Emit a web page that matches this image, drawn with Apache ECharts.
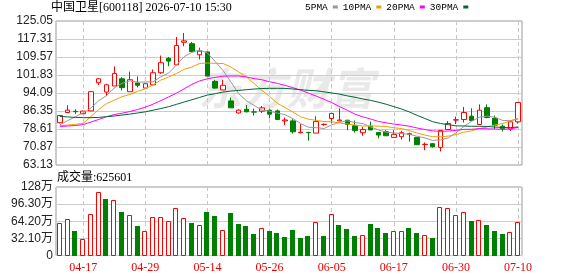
<!DOCTYPE html>
<html><head><meta charset="utf-8">
<script src="https://cdn.jsdelivr.net/npm/echarts@6/dist/echarts.min.js"></script>
<style>html,body{margin:0;padding:0;background:#fff}#c{width:578px;height:276px}</style>
</head><body><div id="c"></div>
<script>
const dates = ['04-14','04-15','04-16','04-17','04-20','04-21','04-22','04-23','04-24','04-27','04-28','04-29','04-30','05-06','05-07','05-08','05-11','05-12','05-13','05-14','05-15','05-18','05-19','05-20','05-21','05-22','05-25','05-26','05-27','05-28','05-29','06-01','06-02','06-03','06-04','06-05','06-08','06-09','06-10','06-11','06-12','06-15','06-16','06-17','06-18','06-22','06-23','06-24','06-25','06-26','06-29','06-30','07-01','07-02','07-03','07-06','07-07','07-08','07-09','07-10'];
const opens = [81.3,85.7,86.2,85.2,86.4,98.5,94.5,97.1,100.2,94.65,98.4,96.2,97.6,102.8,109.0,106.2,115.9,115.3,110.5,111.75,99.1,95.4,90.7,85.5,87.1,85.95,86.25,86.7,86.4,82.1,82.1,77.0,77.15,76.84,80.5,83.1,82.1,82.4,80.0,77.0,79.7,77.1,77.4,75.0,75.3,76.2,75.0,71.9,72.3,70.7,78.4,82.45,82.7,84.1,80.55,87.8,83.2,79.8,78.55,81.7];
const closes = [84.4,86.7,86.05,86.3,94.65,100.2,97.6,102.5,96.4,99.8,97.4,98.1,102.8,107.1,107.8,114.5,116.5,111.9,112.1,101.35,96.2,97.4,87.7,86.7,86.0,85.9,87.7,85.0,82.7,82.5,77.4,77.2,77.05,81.8,80.6,85.25,82.5,80.55,78.0,78.4,78.2,75.99,75.7,76.3,77.0,76.6,71.85,72.05,71.0,78.0,81.0,82.6,85.7,82.25,86.7,83.55,80.26,78.7,81.7,90.0];
const lows = [81.0,85.7,85.1,85.0,86.4,97.5,92.8,97.1,95.2,94.6,96.5,96.2,97.6,102.3,105.6,106.2,114.2,111.8,108.5,101.35,95.9,95.4,87.7,85.25,85.8,84.4,85.5,83.2,82.4,80.3,76.7,76.8,73.6,76.84,80.0,81.0,81.97,78.1,77.1,75.7,78.2,74.6,75.7,74.85,74.1,73.2,71.7,69.5,70.6,69.0,78.4,80.7,81.4,82.1,80.55,83.2,78.6,77.55,77.8,80.9];
const highs = [84.6,88.8,87.1,86.5,94.7,100.5,98.1,105.5,100.9,103.3,101.2,98.5,104.2,110.2,109.6,118.2,119.9,116.0,113.6,111.75,99.8,99.8,92.1,87.1,88.9,87.4,88.5,87.1,87.0,83.5,82.8,80.7,77.4,84.1,81.0,85.5,87.4,82.5,82.25,79.5,81.8,77.3,78.1,78.1,77.8,77.1,75.0,72.8,72.6,78.1,82.0,83.96,88.1,87.5,89.2,89.2,84.4,80.55,82.4,90.0];
// volume in 万 (10k)
const volumes = [60.5,69.2,45.5,31.8,78.5,119.7,105.3,104.7,81.0,76.7,54.8,45.5,72.9,72.9,64.2,89.8,71.1,60.5,58.0,81.7,73.6,47.4,79.2,58.6,54.8,39.9,52.4,45.5,41.8,34.3,47.4,32.4,36.2,62.3,36.2,77.3,56.7,49.2,36.2,39.3,58.6,51.1,41.8,45.5,45.5,51.1,41.8,39.3,32.4,91.6,89.8,76.7,81.0,64.2,67.3,56.7,45.5,39.9,43.6,62.5601];
const volUp = [1,1,0,1,1,1,0,1,0,1,0,1,1,1,1,1,1,0,1,0,0,1,0,0,0,0,1,0,0,0,0,0,0,1,0,1,0,0,0,1,0,0,0,1,1,0,0,1,0,1,1,1,1,0,1,0,0,0,1,1];
const ma5 = [80.4,82.2,83.9,85.6,87.62,90.78,92.96,96.25,98.27,99.3,98.74,98.84,98.9,101.04,102.64,106.06,109.74,111.56,112.56,111.27,107.61,103.79,98.95,93.87,90.8,88.74,86.8,86.26,85.46,84.76,83.06,80.96,79.37,79.19,78.81,80.38,81.44,82.14,81.38,80.94,79.53,78.23,77.26,76.92,76.64,76.32,75.49,74.76,73.7,73.9,74.78,76.93,79.66,81.91,83.65,84.16,83.69,82.29,82.18,82.84];
const ma10 = [80.0,80.3,80.6,81.0,84.0,87.0,89.5,91.0,92.5,93.46,94.76,95.9,97.58,99.66,100.97,102.4,104.29,105.23,106.8,106.96,106.84,106.77,105.26,103.22,101.04,98.18,95.3,92.61,89.67,87.78,85.9,83.88,82.82,82.33,81.79,81.72,81.2,80.76,80.29,79.88,79.96,79.83,79.7,79.15,78.79,77.92,76.86,76.01,75.31,75.27,75.55,76.21,77.21,77.81,78.78,79.47,80.31,80.98,82.05,83.25];
const ma20 = [79.7,79.9,80.1,80.5,81.6,82.7,83.9,84.8,85.4,86.1,87.0,88.0,89.3,90.8,92.4,94.0,95.9,97.8,99.3,100.21,100.8,101.33,101.42,101.44,101.0,100.29,99.79,98.92,98.23,97.37,96.37,95.32,94.04,92.77,91.41,89.95,88.25,86.68,84.98,83.83,82.93,81.86,81.26,80.74,80.29,79.82,79.03,78.38,77.8,77.57,77.75,78.02,78.45,78.48,78.78,78.7,78.59,78.49,78.68,79.26];
const ma30 = [84.0,83.8,83.6,83.5,83.5,83.6,83.9,84.2,84.6,85.0,85.5,86.0,86.7,87.4,88.2,89.2,90.2,91.2,92.2,93.2,93.8,94.5,94.9,95.2,95.5,95.8,96.0,96.1,96.1,96.07,95.83,95.52,95.22,95.07,94.6,94.1,93.6,92.86,92.25,91.54,90.9,90.16,89.26,88.23,87.2,85.94,84.45,83.12,81.75,80.97,80.47,79.97,79.91,79.76,79.78,79.7,79.46,79.25,79.21,79.46];
const priceTicks = [63.13,70.87,78.61,86.35,94.09,101.83,109.57,117.31,125.05];
const volTicks = [0,32.1,64.2,96.3,128.4];
const volTickLabels = ['0','32.10万','64.20万','96.30万','128万'];
const xLabelDates = ['04-17','04-29','05-14','05-26','06-05','06-17','06-30','07-10'];
const legendNames = ['5PMA','10PMA','20PMA','30PMA'];
const titleText = '中国卫星[600118] 2026-07-10 15:30';

const RED = '#ff0000', GREEN = '#008000';
const showIdx = (i) => xLabelDates.indexOf(dates[i]) >= 0;
const serifFont = "'Liberation Serif','Noto Sans CJK SC'";
const sansFont = "'Liberation Sans','Noto Sans CJK SC'";

const kData = dates.map((d, i) => [opens[i], closes[i], lows[i], highs[i]]);
const vData = volumes.map((v, i) => [i, v, volUp[i]]);

function renderVol(params, api) {
  const i = api.value(0), v = api.value(1), up = api.value(2);
  const top = api.coord([i, v]);
  const base = api.coord([i, 0]);
  const cx = Math.round(top[0]);
  const ty = Math.round(top[1]);
  const by = Math.round(base[1]);
  if (up) {
    return {type: 'rect', shape: {x: cx - 2.5, y: ty + 0.5, width: 4, height: by - ty - 1},
      style: {fill: '#fff', stroke: RED, lineWidth: 1}};
  }
  return {type: 'rect', shape: {x: cx - 3, y: ty, width: 5, height: by - ty},
    style: {fill: GREEN, stroke: null}};
}

const grids = [
  {left: 56, right: 56, top: 21, height: 144, show: true, borderColor: '#999', borderWidth: 1, backgroundColor: 'transparent'},
  {left: 56, right: 56, top: 187, height: 68.5, show: true, borderColor: '#999', borderWidth: 1, backgroundColor: 'transparent'}
];
const vSplit = {show: true, interval: (i) => showIdx(i), alignWithLabel: true, lineStyle: {color: '#c8c8c8', type: [4, 3], width: 1}};

const chart = echarts.init(document.getElementById('c'), null, {renderer: 'canvas'});
chart.setOption({
  animation: false,
  backgroundColor: '#fff',
  title: {text: titleText, left: 51, top: 2, padding: 0,
    textStyle: {fontSize: 12, fontWeight: 'normal', fontFamily: serifFont, color: '#000'}},
  legend: {data: legendNames, left: 305, top: 2, padding: 0, align: 'right', icon: 'rect',
    itemWidth: 5, itemHeight: 3, itemGap: 5,
    textStyle: {fontFamily: "'Liberation Mono'", fontSize: 9.5, color: '#000'}},
  graphic: [
    {type: 'text', left: 198, top: 66, z: 0, silent: true,
      style: {text: '东方财富', font: 'italic bold 44px "Noto Sans CJK SC"', fill: 'rgba(0,0,0,0.085)'}},
    {type: 'text', left: 57, top: 172, style: {text: '成交量:' + Math.round(volumes[volumes.length - 1] * 10000),
      font: '12px ' + serifFont, fill: '#000'}}
  ],
  grid: grids,
  xAxis: [
    {type: 'category', gridIndex: 0, data: dates, boundaryGap: true,
      axisLine: {show: false}, axisTick: {show: false}, axisLabel: {show: false}, splitLine: vSplit},
    {type: 'category', gridIndex: 1, data: dates, boundaryGap: true,
      axisLine: {show: false}, axisTick: {show: false},
      axisLabel: {interval: (i) => showIdx(i), color: '#ee0000', fontFamily: serifFont, fontSize: 12, margin: 6},
      splitLine: vSplit}
  ],
  yAxis: [
    {type: 'value', gridIndex: 0, min: priceTicks[0], max: priceTicks[priceTicks.length - 1], scale: true,
      axisLine: {show: false}, axisTick: {show: false, customValues: priceTicks},
      axisLabel: {customValues: priceTicks, formatter: (v) => v.toFixed(2), color: '#222', fontFamily: sansFont, fontSize: 12, margin: 3},
      splitLine: {show: true, lineStyle: {color: '#ccc', width: 1}}},
    {type: 'value', gridIndex: 1, min: 0, max: volTicks[volTicks.length - 1], interval: volTicks[1],
      axisLine: {show: false}, axisTick: {show: false},
      axisLabel: {formatter: (v) => { const k = volTicks.findIndex(t => Math.abs(t - v) < 1e-6); return k >= 0 ? volTickLabels[k] : ''; },
        color: '#222', fontFamily: sansFont, fontSize: 12, margin: 3},
      splitLine: {show: true, lineStyle: {color: '#ccc', width: 1}}}
  ],
  series: [
    {type: 'candlestick', name: 'K', xAxisIndex: 0, yAxisIndex: 0, data: kData, barWidth: 5,
      itemStyle: {color: '#fff', color0: GREEN, borderColor: RED, borderColor0: GREEN, borderWidth: 1}},
    {type: 'line', name: legendNames[0], xAxisIndex: 0, yAxisIndex: 0, data: ma5, symbol: 'none', color: '#999999', lineStyle: {width: 1}},
    {type: 'line', name: legendNames[1], xAxisIndex: 0, yAxisIndex: 0, data: ma10, symbol: 'none', color: '#f0a000', lineStyle: {width: 1}},
    {type: 'line', name: legendNames[2], xAxisIndex: 0, yAxisIndex: 0, data: ma20, symbol: 'none', color: '#ff00ff', lineStyle: {width: 1}},
    {type: 'line', name: legendNames[3], xAxisIndex: 0, yAxisIndex: 0, data: ma30, symbol: 'none', color: '#006633', lineStyle: {width: 1}},
    {type: 'custom', name: 'VOL', xAxisIndex: 1, yAxisIndex: 1, data: vData, encode: {x: 0, y: 1}, renderItem: renderVol}
  ]
});
</script></body></html>
